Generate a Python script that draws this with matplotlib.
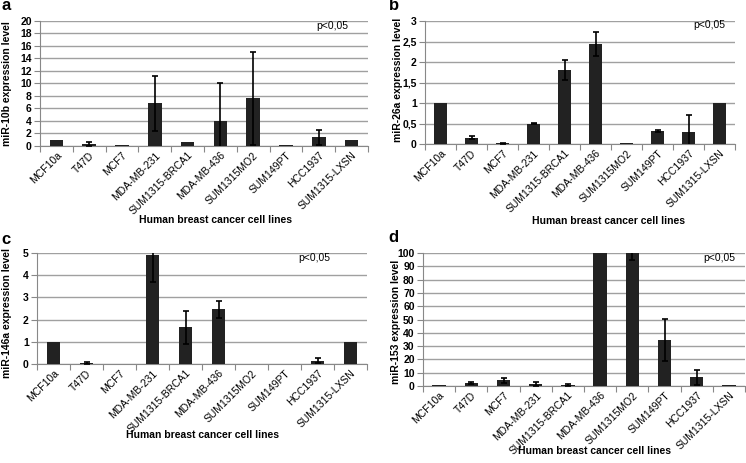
import matplotlib
matplotlib.use("Agg")
import matplotlib.pyplot as plt
import numpy as np

plt.rcParams['font.family'] = ['Liberation Sans', 'DejaVu Sans']

cell_lines = ["MCF10a", "T47D", "MCF7", "MDA-MB-231", "SUM1315-BRCA1", "MDA-MB-436",
              "SUM1315MO2", "SUM149PT", "HCC1937", "SUM1315-LXSN"]

mir10b_vals = [1.0, 0.3, 0.1, 6.8, 0.6, 4.0, 7.6, 0.1, 1.4, 1.0]
mir10b_err = [0.0, 0.3, 0.0, 4.4, 0.0, 6.1, 7.4, 0.0, 1.2, 0.0]

mir26a_vals = [1.0, 0.15, 0.02, 0.5, 1.8, 2.44, 0.02, 0.32, 0.3, 1.0]
mir26a_err = [0.0, 0.04, 0.01, 0.02, 0.25, 0.3, 0.0, 0.03, 0.4, 0.0]

mir146a_vals = [1.0, 0.03, 0.02, 4.9, 1.65, 2.47, 0.02, 0.02, 0.15, 1.0]
mir146a_err = [0.0, 0.05, 0.0, 1.2, 0.75, 0.38, 0.0, 0.0, 0.1, 0.0]

mir153_vals = [0.5, 2.5, 4.2, 1.7, 0.5, 130.0, 105.0, 34.5, 6.5, 0.5]
mir153_err = [0.0, 0.8, 1.8, 1.6, 0.8, 10.0, 10.0, 16.0, 5.8, 0.0]

panels = [
    dict(letter="a", vals=mir10b_vals, err=mir10b_err, ylabel="miR-10b expression level",
         ymax=20, step=2,
         box=(40, 368, 20.7, 146), ylab=(12, 0.5), xlab=(215, 220), p=(348, 26), let=(1, 6)),
    dict(letter="b", vals=mir26a_vals, err=mir26a_err, ylabel="miR-26a expression level",
         ymax=3, step=0.5,
         box=(425, 735, 21, 144), ylab=(403, 0.52), xlab=(609, 221), p=(725, 25), let=(389, 6)),
    dict(letter="c", vals=mir146a_vals, err=mir146a_err, ylabel="miR-146a expression level",
         ymax=5, step=1,
         box=(37, 367, 253, 364), ylab=(12, 0.46), xlab=(202, 435), p=(330, 258), let=(1, 239)),
    dict(letter="d", vals=mir153_vals, err=mir153_err, ylabel="miR-153 expression level",
         ymax=100, step=10,
         box=(423, 745, 253, 386), ylab=(401, 0.48), xlab=(594, 451), p=(735, 258), let=(388, 238)),
]

W, H = 746, 463
fig = plt.figure(figsize=(W / 100, H / 100), dpi=100)

for pn in panels:
    l, r, t, b = pn["box"]
    ax = fig.add_axes([l / W, 1 - b / H, (r - l) / W, (b - t) / H])
    x = np.arange(len(cell_lines))
    ax.bar(x, pn["vals"], width=0.42, color="#222222", zorder=3)
    err = np.array(pn["err"])
    mask = err > 0
    ax.errorbar(x[mask], np.array(pn["vals"])[mask], yerr=err[mask], fmt="none",
                ecolor="black", elinewidth=1.2, capsize=2.5, capthick=1.2, zorder=4)
    ax.set_xlim(-0.5, len(cell_lines) - 0.5)
    ax.set_ylim(0, pn["ymax"])
    ticks = np.arange(0, pn["ymax"] + pn["step"] / 2, pn["step"])
    ax.set_yticks(ticks)
    ax.set_yticklabels([("{:g}".format(round(v, 2))).replace(".", ",") for v in ticks],
                       fontsize=7.5, fontweight="bold")
    ax.yaxis.grid(True, color="#a0a0a0", linewidth=1.0, zorder=0)
    ax.set_axisbelow(True)
    ax.set_xticks(x)
    ax.set_xticklabels(cell_lines, rotation=45, ha="right", rotation_mode="anchor",
                       fontsize=7.5)
    ax.tick_params(axis="x", length=0, pad=3)
    ax.set_xticks(np.arange(-0.5, len(cell_lines)), minor=True)
    ax.tick_params(axis="x", which="minor", length=4, width=0.8, color="#888888")
    ax.tick_params(axis="y", length=4, width=0.8, color="#888888", pad=2)
    for s in ["top", "right"]:
        ax.spines[s].set_visible(False)
    ax.spines["left"].set_color("#888888")
    ax.spines["bottom"].set_color("#888888")
    ax.set_ylabel(pn["ylabel"], fontsize=7.5, fontweight="bold")
    ax.yaxis.set_label_coords((pn["ylab"][0] - l) / (r - l), pn["ylab"][1])
    fig.text(pn["xlab"][0] / W, 1 - pn["xlab"][1] / H, "Human breast cancer cell lines",
             ha="center", va="center", fontsize=7.5, fontweight="bold")
    fig.text(pn["p"][0] / W, 1 - pn["p"][1] / H, "p<0,05", ha="right", va="center",
             fontsize=7.5)
    fig.text(pn["let"][0] / W, 1 - pn["let"][1] / H, pn["letter"], ha="left", va="center",
             fontsize=12, fontweight="bold")

fig.savefig("out.png", dpi=100)
